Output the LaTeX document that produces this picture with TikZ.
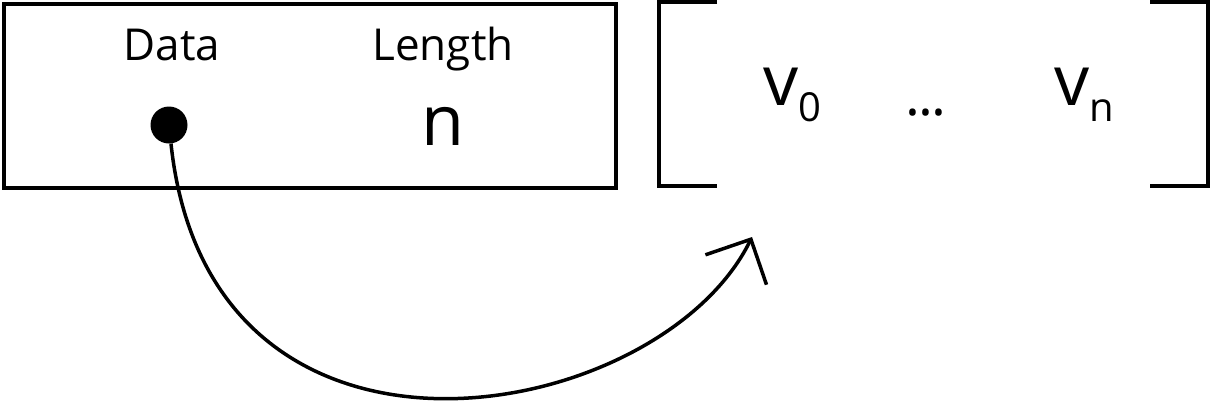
\documentclass[tikz,border=0pt]{standalone}
\usepackage{fontspec}
\setmainfont{Open Sans}
\usepackage{tikz}
\usetikzlibrary{arrows.meta}

\begin{document}
\begin{tikzpicture}[x=1pt,y=-1pt,
      lbl/.style={font=\fontsize{44}{44}\selectfont,anchor=base,inner sep=0pt},
      big/.style={font=\fontsize{70}{70}\selectfont,anchor=base,inner sep=0pt},
      frame/.style={draw,line width=4pt,anchor=north west,inner sep=0pt},
      brk/.style={line width=4pt},
      ptr/.style={-{Straight Barb[length=34pt,width=68pt]},line width=3.5pt}]
      \useasboundingbox (0,0) rectangle (1211,400);
      \node[frame,minimum width=612pt,minimum height=184pt] (rec) at (2,2) {};
      \node[lbl] (data) at (172,60) {Data};
      \node[lbl] (len) at (443,60) {Length};
      \node[big] (n) at (443,145) {n};
      \node[circle,fill,minimum size=37pt,inner sep=0pt] (dot) at (169,125) {};
      \draw[brk] (717,2) -- (659,2) -- (659,186) -- (717,186);
      \draw[brk] (1150,2) -- (1208,2) -- (1208,186) -- (1150,186);
      \node[big] (v0) at (792,105) {v\raisebox{-16pt}{\fontsize{40}{40}\selectfont 0}};
      \node[font=\fontsize{56}{56}\selectfont,anchor=base,inner sep=0pt] (dots) at (926,115) {.\kern-2pt.\kern-2pt.};
      \node[big] (vn) at (1084,105) {v\raisebox{-16pt}{\fontsize{40}{40}\selectfont n}};
      \coordinate (tip) at (752,237);
      \draw[ptr] (dot) .. controls (210,510) and (660,425) .. (tip);
    \end{tikzpicture}
\end{document}
